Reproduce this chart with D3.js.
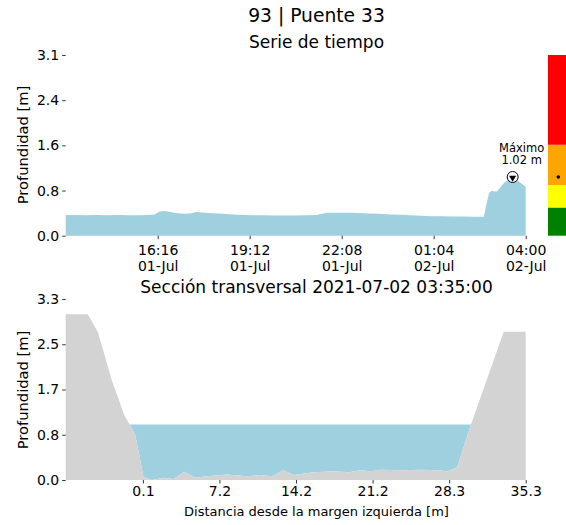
<!DOCTYPE html>
<html><head><meta charset="utf-8">
<script src="https://cdn.jsdelivr.net/npm/d3@7"></script>
<style>body{margin:0;background:#fff}svg{display:block;font-family:"DejaVu Sans",sans-serif}</style>
</head><body>
<script>
// ---------- data ----------
const mainTitle = "93 | Puente 33";
const tsTitle = "Serie de tiempo";
const xsTitle = "Sección transversal 2021-07-02 03:35:00";
const yLabel = "Profundidad [m]";
const xsXLabel = "Distancia desde la margen izquierda [m]";

const tsTimes = ["2021-07-01T13:20","2021-07-01T13:40","2021-07-01T14:00","2021-07-01T14:20","2021-07-01T14:40","2021-07-01T15:00","2021-07-01T15:20","2021-07-01T15:40","2021-07-01T16:00","2021-07-01T16:10","2021-07-01T16:20","2021-07-01T16:30","2021-07-01T16:40","2021-07-01T16:50","2021-07-01T17:00","2021-07-01T17:10","2021-07-01T17:20","2021-07-01T17:30","2021-07-01T17:40","2021-07-01T18:00","2021-07-01T18:20","2021-07-01T18:40","2021-07-01T19:00","2021-07-01T19:20","2021-07-01T19:40","2021-07-01T20:00","2021-07-01T20:20","2021-07-01T20:40","2021-07-01T21:00","2021-07-01T21:20","2021-07-01T21:30","2021-07-01T21:40","2021-07-01T22:00","2021-07-01T22:20","2021-07-01T22:40","2021-07-01T23:00","2021-07-01T23:20","2021-07-01T23:40","2021-07-02T00:00","2021-07-02T00:20","2021-07-02T00:40","2021-07-02T01:00","2021-07-02T01:20","2021-07-02T01:40","2021-07-02T02:00","2021-07-02T02:20","2021-07-02T02:40","2021-07-02T02:45","2021-07-02T02:50","2021-07-02T02:55","2021-07-02T03:00","2021-07-02T03:05","2021-07-02T03:10","2021-07-02T03:15","2021-07-02T03:20","2021-07-02T03:25","2021-07-02T03:30","2021-07-02T03:35","2021-07-02T03:40","2021-07-02T03:45","2021-07-02T03:50","2021-07-02T03:55","2021-07-02T04:00"];
const tsDepth = [0.36,0.36,0.355,0.36,0.355,0.36,0.355,0.355,0.36,0.37,0.42,0.43,0.41,0.395,0.385,0.38,0.39,0.41,0.405,0.39,0.38,0.37,0.36,0.355,0.355,0.35,0.35,0.35,0.355,0.36,0.38,0.40,0.40,0.40,0.395,0.385,0.38,0.37,0.365,0.355,0.345,0.34,0.34,0.335,0.335,0.33,0.33,0.55,0.74,0.78,0.77,0.77,0.82,0.88,0.93,0.96,0.98,1.02,0.97,0.95,0.92,0.88,0.85];
const tsTickTimes = ["2021-07-01T16:16","2021-07-01T19:12","2021-07-01T22:08","2021-07-02T01:04","2021-07-02T04:00"];
const tsYTicks = [0, 0.785, 1.57, 2.355, 3.14];
const tsYTickLabels = ["0.0","0.8","1.6","2.4","3.1"];
const maxLabel = ["Máximo", "1.02 m"];

const alertLevels = [0, 0.49, 0.88, 1.58, 3.14];
const alertColors = ["#008000","#ffff00","#ffa500","#ff0000"];
const currentLevel = 1.02;

const xsDist = [-7.0,-4.97,-4.05,-2.76,-1.62,-1.13,-0.61,-0.15,0.15,0.93,2.0,2.92,3.93,4.92,6.0,7.84,9.69,10.9,12.0,13.0,14.0,15.8,17.67,19.05,20.1,21.05,21.97,23.8,25.66,27.2,28.1,28.98,30.27,33.28,35.3];
const xsBed = [3.04,3.04,2.72,1.83,1.19,1.02,0.83,0.37,0.06,0.0,0.04,0.02,0.15,0.04,0.07,0.1,0.07,0.09,0.07,0.18,0.09,0.14,0.16,0.14,0.18,0.16,0.19,0.18,0.19,0.18,0.16,0.23,1.02,2.72,2.72];
const waterLevel = 1.02;
const xsXTicks = [0.1, 7.14, 14.18, 21.22, 28.26, 35.3];
const xsXTickLabels = ["0.1","7.2","14.2","21.2","28.3","35.3"];
const xsYTicks = [0, 0.83, 1.66, 2.49, 3.32];
const xsYTickLabels = ["0.0","0.8","1.7","2.5","3.3"];

// ---------- drawing ----------
const W = 566, H = 525;
const svg = d3.select("body").append("svg").attr("width", W).attr("height", H);
const waterColor = "#9ed0e0", groundColor = "#d3d3d3";
const L = 65.7, R = 525.7, CX = 316.5;
const parse = d3.timeParse("%Y-%m-%dT%H:%M");

svg.append("text").attr("x", CX).attr("y", 22).attr("text-anchor","middle").attr("font-size", 18.7).text(mainTitle);
svg.append("text").attr("x", CX).attr("y", 48).attr("text-anchor","middle").attr("font-size", 17).text(tsTitle);

// top chart
const ts = tsTimes.map((t,i)=>({t: parse(t), v: tsDepth[i]}));
const xT = d3.scaleTime().domain(d3.extent(ts, d=>d.t)).range([L, R]);
const yT = d3.scaleLinear().domain([0, 3.14]).range([235.7, 55]);
svg.append("path").datum(ts).attr("fill", waterColor)
  .attr("d", d3.area().x(d=>xT(d.t)).y0(yT(0)).y1(d=>yT(d.v)));

svg.append("g").attr("transform",`translate(${L},0)`)
  .call(d3.axisLeft(yT).tickValues(tsYTicks).tickSize(3.5).tickPadding(3).tickFormat((d,i)=>tsYTickLabels[i]));
const xAxT = svg.append("g").attr("transform",`translate(0,${yT(0)})`)
  .call(d3.axisBottom(xT).tickValues(tsTickTimes.map(parse)).tickSize(3.5).tickPadding(3).tickFormat(""));
const fH = d3.timeFormat("%H:%M"), fD = d3.timeFormat("%d-%b");
xAxT.selectAll(".tick").each(function(d){
  const t = d3.select(this).append("text").attr("class","tl").attr("fill","#000").attr("text-anchor","middle").attr("font-size",14);
  t.append("tspan").attr("x",0).attr("y",19.5).text(fH(d));
  t.append("tspan").attr("x",0).attr("y",35.5).text(fD(d));
});
svg.append("text").attr("transform",`translate(27.5,145) rotate(-90)`).attr("text-anchor","middle").attr("font-size",14.7).text(yLabel);

// max marker
const mx = ts.reduce((a,b)=> b.v > a.v ? b : a);
const mxX = xT(mx.t), mxY = yT(mx.v);
svg.append("circle").attr("cx", mxX).attr("cy", mxY).attr("r", 5.5).attr("fill","#fff").attr("stroke","#000").attr("stroke-width",1);
svg.append("path").attr("d", d3.symbol().type(d3.symbolTriangle).size(22)()).attr("fill","#000")
  .attr("transform",`translate(${mxX},${mxY+0.7}) rotate(180)`);
svg.append("text").attr("x", mxX+9).attr("y", mxY-25.5).attr("text-anchor","middle").attr("font-size",11.5).text(maxLabel[0]);
svg.append("text").attr("x", mxX+9).attr("y", mxY-13).attr("text-anchor","middle").attr("font-size",11.5).text(maxLabel[1]);

// alert bar
for (let i=0;i<alertColors.length;i++){
  svg.append("rect").attr("x",548).attr("width",22)
    .attr("y", yT(alertLevels[i+1])).attr("height", yT(alertLevels[i]) - yT(alertLevels[i+1]))
    .attr("fill", alertColors[i]);
}
svg.append("circle").attr("cx",558.3).attr("cy",yT(currentLevel)).attr("r",1.8).attr("fill","#000");

// bottom chart
svg.append("text").attr("x", CX).attr("y", 293).attr("text-anchor","middle").attr("font-size", 17).text(xsTitle);
const xs = xsDist.map((d,i)=>({x:d, z:xsBed[i]}));
const xB = d3.scaleLinear().domain([-7.0, 35.3]).range([L, R]);
const yB = d3.scaleLinear().domain([0, 3.32]).range([480, 299]);
svg.append("path").datum(xs).attr("fill", waterColor)
  .attr("d", d3.area().x(d=>xB(d.x)).y0(d=>yB(d.z)).y1(d=>yB(Math.max(d.z, waterLevel))));
svg.append("path").datum(xs).attr("fill", groundColor)
  .attr("d", d3.area().x(d=>xB(d.x)).y0(yB(0)).y1(d=>yB(d.z)));

svg.append("g").attr("transform",`translate(${L},0)`)
  .call(d3.axisLeft(yB).tickValues(xsYTicks).tickSize(3.5).tickPadding(3).tickFormat((d,i)=>xsYTickLabels[i]));
svg.append("g").attr("transform",`translate(0,${yB(0)})`)
  .call(d3.axisBottom(xB).tickValues(xsXTicks).tickSize(3.5).tickPadding(3).tickFormat((d,i)=>xsXTickLabels[i]));
svg.append("text").attr("transform",`translate(27.5,390) rotate(-90)`).attr("text-anchor","middle").attr("font-size",14.7).text(yLabel);
svg.append("text").attr("x", CX).attr("y", 516).attr("text-anchor","middle").attr("font-size",13).text(xsXLabel);

svg.selectAll(".domain").remove();
svg.selectAll(".tick line").attr("stroke","#000").attr("stroke-width",0.8);
svg.selectAll(".tick text").attr("font-size",14).attr("font-family","DejaVu Sans").attr("fill","#000");
</script>
</body></html>
